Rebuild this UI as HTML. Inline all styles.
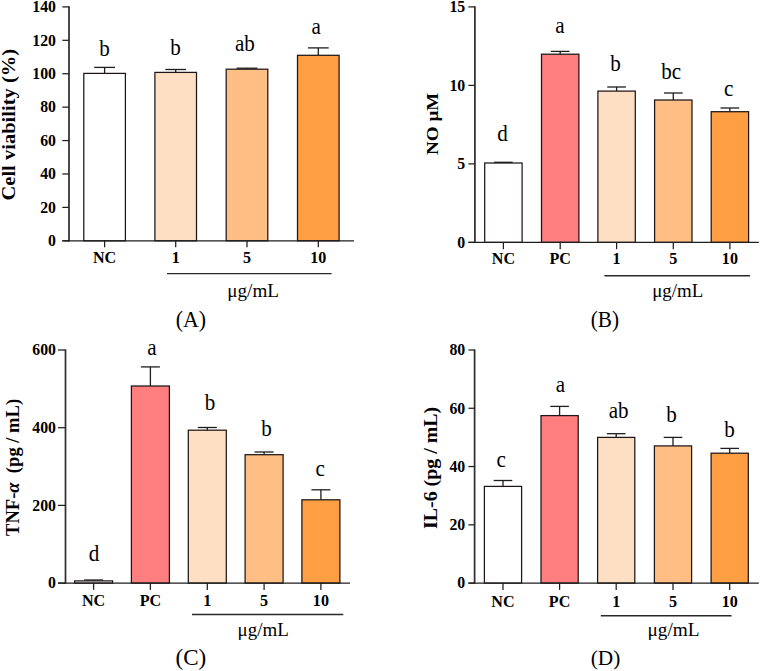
<!DOCTYPE html>
<html><head><meta charset="utf-8"><style>
html,body{margin:0;padding:0;background:#fff;}
body{width:760px;height:671px;overflow:hidden;}
svg{display:block;font-family:"Liberation Serif", serif;}
</style></head><body>
<svg width="760" height="671" viewBox="0 0 760 671">
<rect width="760" height="671" fill="#fff"/>
<line x1="104.60" y1="67.40" x2="104.60" y2="73.40" stroke="#1e1e1e" stroke-width="1.3"/>
<line x1="94.20" y1="67.40" x2="115.00" y2="67.40" stroke="#1e1e1e" stroke-width="1.3"/>
<rect x="83.80" y="73.40" width="41.60" height="167.40" fill="#ffffff" stroke="#1e1616" stroke-width="1.25"/>
<line x1="104.60" y1="240.80" x2="104.60" y2="247.30" stroke="#1e1e1e" stroke-width="1.25"/>
<line x1="175.70" y1="69.50" x2="175.70" y2="72.40" stroke="#1e1e1e" stroke-width="1.3"/>
<line x1="165.30" y1="69.50" x2="186.10" y2="69.50" stroke="#1e1e1e" stroke-width="1.3"/>
<rect x="154.90" y="72.40" width="41.60" height="168.40" fill="#fde0c4" stroke="#1e1616" stroke-width="1.25"/>
<line x1="175.70" y1="240.80" x2="175.70" y2="247.30" stroke="#1e1e1e" stroke-width="1.25"/>
<line x1="247.00" y1="68.20" x2="247.00" y2="69.20" stroke="#1e1e1e" stroke-width="1.3"/>
<line x1="236.60" y1="68.20" x2="257.40" y2="68.20" stroke="#1e1e1e" stroke-width="1.3"/>
<rect x="226.20" y="69.20" width="41.60" height="171.60" fill="#ffbf84" stroke="#1e1616" stroke-width="1.25"/>
<line x1="247.00" y1="240.80" x2="247.00" y2="247.30" stroke="#1e1e1e" stroke-width="1.25"/>
<line x1="318.30" y1="47.90" x2="318.30" y2="55.30" stroke="#1e1e1e" stroke-width="1.3"/>
<line x1="307.90" y1="47.90" x2="328.70" y2="47.90" stroke="#1e1e1e" stroke-width="1.3"/>
<rect x="297.50" y="55.30" width="41.60" height="185.50" fill="#ff9e42" stroke="#1e1616" stroke-width="1.25"/>
<line x1="318.30" y1="240.80" x2="318.30" y2="247.30" stroke="#1e1e1e" stroke-width="1.25"/>
<line x1="69.00" y1="6.30" x2="69.00" y2="241.40" stroke="#303030" stroke-width="1.75"/>
<line x1="62.30" y1="240.80" x2="69.00" y2="240.80" stroke="#1e1e1e" stroke-width="1.25"/>
<line x1="62.30" y1="207.39" x2="69.00" y2="207.39" stroke="#1e1e1e" stroke-width="1.25"/>
<line x1="62.30" y1="173.97" x2="69.00" y2="173.97" stroke="#1e1e1e" stroke-width="1.25"/>
<line x1="62.30" y1="140.56" x2="69.00" y2="140.56" stroke="#1e1e1e" stroke-width="1.25"/>
<line x1="62.30" y1="107.14" x2="69.00" y2="107.14" stroke="#1e1e1e" stroke-width="1.25"/>
<line x1="62.30" y1="73.73" x2="69.00" y2="73.73" stroke="#1e1e1e" stroke-width="1.25"/>
<line x1="62.30" y1="40.31" x2="69.00" y2="40.31" stroke="#1e1e1e" stroke-width="1.25"/>
<line x1="62.30" y1="6.90" x2="69.00" y2="6.90" stroke="#1e1e1e" stroke-width="1.25"/>
<line x1="62.30" y1="240.80" x2="354.00" y2="240.80" stroke="#1e1e1e" stroke-width="1.35"/>
<text transform="translate(48.09 246.14) scale(0.970 1)" font-size="16.30" font-weight="bold" fill="#000">0</text>
<text transform="translate(40.19 212.72) scale(0.970 1)" font-size="16.30" font-weight="bold" fill="#000">20</text>
<text transform="translate(40.19 179.31) scale(0.970 1)" font-size="16.30" font-weight="bold" fill="#000">40</text>
<text transform="translate(40.19 145.90) scale(0.970 1)" font-size="16.30" font-weight="bold" fill="#000">60</text>
<text transform="translate(40.19 112.48) scale(0.970 1)" font-size="16.30" font-weight="bold" fill="#000">80</text>
<text transform="translate(32.28 79.07) scale(0.970 1)" font-size="16.30" font-weight="bold" fill="#000">100</text>
<text transform="translate(32.28 45.65) scale(0.970 1)" font-size="16.30" font-weight="bold" fill="#000">120</text>
<text transform="translate(32.28 12.24) scale(0.970 1)" font-size="16.30" font-weight="bold" fill="#000">140</text>
<text transform="translate(92.96 262.60) scale(1.020 1)" font-size="15.80" font-weight="bold" fill="#000">NC</text>
<text transform="translate(171.67 262.60) scale(1.020 1)" font-size="15.80" font-weight="bold" fill="#000">1</text>
<text transform="translate(242.97 262.60) scale(1.020 1)" font-size="15.80" font-weight="bold" fill="#000">5</text>
<text transform="translate(310.24 262.60) scale(1.020 1)" font-size="15.80" font-weight="bold" fill="#000">10</text>
<text transform="translate(99.23 55.80) scale(0.950 1)" font-size="22.20" font-weight="normal" fill="#000">b</text>
<text transform="translate(170.23 54.80) scale(0.950 1)" font-size="22.20" font-weight="normal" fill="#000">b</text>
<text transform="translate(234.95 50.80) scale(0.950 1)" font-size="22.20" font-weight="normal" fill="#000">ab</text>
<text transform="translate(311.52 33.80) scale(0.950 1)" font-size="22.20" font-weight="normal" fill="#000">a</text>
<line x1="167.00" y1="273.60" x2="331.60" y2="273.60" stroke="#2a2a2a" stroke-width="1.4"/>
<text transform="translate(227.30 296.75) scale(0.973 1)" font-size="19.66" font-weight="normal" fill="#000">μg/mL</text>
<text transform="translate(175.70 326.63) scale(0.917 1)" font-size="23.81" font-weight="normal" fill="#000">(A)</text>
<text transform="translate(14.54 200.50) rotate(-90) scale(1.052 1)" font-size="19.51" font-weight="bold" fill="#000" style="white-space:pre">Cell viability (%)</text>
<line x1="503.40" y1="162.30" x2="503.40" y2="163.00" stroke="#1e1e1e" stroke-width="1.3"/>
<line x1="494.05" y1="162.30" x2="512.75" y2="162.30" stroke="#1e1e1e" stroke-width="1.3"/>
<rect x="484.70" y="163.00" width="37.40" height="79.40" fill="#ffffff" stroke="#1e1616" stroke-width="1.25"/>
<line x1="503.40" y1="242.40" x2="503.40" y2="249.20" stroke="#1e1e1e" stroke-width="1.25"/>
<line x1="560.20" y1="51.40" x2="560.20" y2="54.20" stroke="#1e1e1e" stroke-width="1.3"/>
<line x1="550.85" y1="51.40" x2="569.55" y2="51.40" stroke="#1e1e1e" stroke-width="1.3"/>
<rect x="541.50" y="54.20" width="37.40" height="188.20" fill="#ff7e7f" stroke="#1e1616" stroke-width="1.25"/>
<line x1="560.20" y1="242.40" x2="560.20" y2="249.20" stroke="#1e1e1e" stroke-width="1.25"/>
<line x1="616.60" y1="87.00" x2="616.60" y2="91.10" stroke="#1e1e1e" stroke-width="1.3"/>
<line x1="607.25" y1="87.00" x2="625.95" y2="87.00" stroke="#1e1e1e" stroke-width="1.3"/>
<rect x="597.90" y="91.10" width="37.40" height="151.30" fill="#fde0c4" stroke="#1e1616" stroke-width="1.25"/>
<line x1="616.60" y1="242.40" x2="616.60" y2="249.20" stroke="#1e1e1e" stroke-width="1.25"/>
<line x1="673.30" y1="93.00" x2="673.30" y2="100.00" stroke="#1e1e1e" stroke-width="1.3"/>
<line x1="663.95" y1="93.00" x2="682.65" y2="93.00" stroke="#1e1e1e" stroke-width="1.3"/>
<rect x="654.60" y="100.00" width="37.40" height="142.40" fill="#ffbf84" stroke="#1e1616" stroke-width="1.25"/>
<line x1="673.30" y1="242.40" x2="673.30" y2="249.20" stroke="#1e1e1e" stroke-width="1.25"/>
<line x1="729.90" y1="108.00" x2="729.90" y2="111.70" stroke="#1e1e1e" stroke-width="1.3"/>
<line x1="720.55" y1="108.00" x2="739.25" y2="108.00" stroke="#1e1e1e" stroke-width="1.3"/>
<rect x="711.20" y="111.70" width="37.40" height="130.70" fill="#ff9e42" stroke="#1e1616" stroke-width="1.25"/>
<line x1="729.90" y1="242.40" x2="729.90" y2="249.20" stroke="#1e1e1e" stroke-width="1.25"/>
<line x1="474.90" y1="6.30" x2="474.90" y2="243.00" stroke="#303030" stroke-width="1.75"/>
<line x1="468.40" y1="242.40" x2="474.90" y2="242.40" stroke="#1e1e1e" stroke-width="1.25"/>
<line x1="468.40" y1="163.90" x2="474.90" y2="163.90" stroke="#1e1e1e" stroke-width="1.25"/>
<line x1="468.40" y1="85.40" x2="474.90" y2="85.40" stroke="#1e1e1e" stroke-width="1.25"/>
<line x1="468.40" y1="6.90" x2="474.90" y2="6.90" stroke="#1e1e1e" stroke-width="1.25"/>
<line x1="468.40" y1="242.40" x2="758.80" y2="242.40" stroke="#1e1e1e" stroke-width="1.35"/>
<text transform="translate(457.29 247.74) scale(0.970 1)" font-size="16.30" font-weight="bold" fill="#000">0</text>
<text transform="translate(457.29 169.16) scale(0.970 1)" font-size="16.30" font-weight="bold" fill="#000">5</text>
<text transform="translate(449.39 90.74) scale(0.970 1)" font-size="16.30" font-weight="bold" fill="#000">10</text>
<text transform="translate(449.39 12.20) scale(0.970 1)" font-size="16.30" font-weight="bold" fill="#000">15</text>
<text transform="translate(491.76 264.20) scale(1.020 1)" font-size="15.80" font-weight="bold" fill="#000">NC</text>
<text transform="translate(549.46 264.20) scale(1.020 1)" font-size="15.80" font-weight="bold" fill="#000">PC</text>
<text transform="translate(612.57 264.20) scale(1.020 1)" font-size="15.80" font-weight="bold" fill="#000">1</text>
<text transform="translate(669.27 264.20) scale(1.020 1)" font-size="15.80" font-weight="bold" fill="#000">5</text>
<text transform="translate(721.84 264.20) scale(1.020 1)" font-size="15.80" font-weight="bold" fill="#000">10</text>
<text transform="translate(497.33 141.30) scale(0.950 1)" font-size="22.20" font-weight="normal" fill="#000">d</text>
<text transform="translate(555.32 32.60) scale(0.950 1)" font-size="22.20" font-weight="normal" fill="#000">a</text>
<text transform="translate(610.13 71.30) scale(0.950 1)" font-size="22.20" font-weight="normal" fill="#000">b</text>
<text transform="translate(661.25 79.40) scale(0.950 1)" font-size="22.20" font-weight="normal" fill="#000">bc</text>
<text transform="translate(724.02 96.00) scale(0.950 1)" font-size="22.20" font-weight="normal" fill="#000">c</text>
<line x1="604.40" y1="275.80" x2="750.00" y2="275.80" stroke="#2a2a2a" stroke-width="1.4"/>
<text transform="translate(652.20 297.30) scale(0.971 1)" font-size="19.43" font-weight="normal" fill="#000">μg/mL</text>
<text transform="translate(590.70 326.76) scale(0.953 1)" font-size="22.27" font-weight="normal" fill="#000">(B)</text>
<text transform="translate(437.58 155.00) rotate(-90) scale(1.093 1)" font-size="17.49" font-weight="bold" fill="#000" style="white-space:pre">NO μM</text>
<line x1="93.60" y1="580.00" x2="93.60" y2="580.90" stroke="#1e1e1e" stroke-width="1.3"/>
<line x1="84.10" y1="580.00" x2="103.10" y2="580.00" stroke="#1e1e1e" stroke-width="1.3"/>
<rect x="74.60" y="580.90" width="38.00" height="2.20" fill="#ffffff" stroke="#1e1616" stroke-width="1.25"/>
<line x1="93.60" y1="583.10" x2="93.60" y2="589.90" stroke="#1e1e1e" stroke-width="1.25"/>
<line x1="150.40" y1="366.90" x2="150.40" y2="386.00" stroke="#1e1e1e" stroke-width="1.3"/>
<line x1="140.90" y1="366.90" x2="159.90" y2="366.90" stroke="#1e1e1e" stroke-width="1.3"/>
<rect x="131.40" y="386.00" width="38.00" height="197.10" fill="#ff7e7f" stroke="#1e1616" stroke-width="1.25"/>
<line x1="150.40" y1="583.10" x2="150.40" y2="589.90" stroke="#1e1e1e" stroke-width="1.25"/>
<line x1="207.30" y1="427.50" x2="207.30" y2="430.20" stroke="#1e1e1e" stroke-width="1.3"/>
<line x1="197.80" y1="427.50" x2="216.80" y2="427.50" stroke="#1e1e1e" stroke-width="1.3"/>
<rect x="188.30" y="430.20" width="38.00" height="152.90" fill="#fde0c4" stroke="#1e1616" stroke-width="1.25"/>
<line x1="207.30" y1="583.10" x2="207.30" y2="589.90" stroke="#1e1e1e" stroke-width="1.25"/>
<line x1="264.10" y1="452.00" x2="264.10" y2="454.70" stroke="#1e1e1e" stroke-width="1.3"/>
<line x1="254.60" y1="452.00" x2="273.60" y2="452.00" stroke="#1e1e1e" stroke-width="1.3"/>
<rect x="245.10" y="454.70" width="38.00" height="128.40" fill="#ffbf84" stroke="#1e1616" stroke-width="1.25"/>
<line x1="264.10" y1="583.10" x2="264.10" y2="589.90" stroke="#1e1e1e" stroke-width="1.25"/>
<line x1="320.90" y1="489.80" x2="320.90" y2="499.80" stroke="#1e1e1e" stroke-width="1.3"/>
<line x1="311.40" y1="489.80" x2="330.40" y2="489.80" stroke="#1e1e1e" stroke-width="1.3"/>
<rect x="301.90" y="499.80" width="38.00" height="83.30" fill="#ff9e42" stroke="#1e1616" stroke-width="1.25"/>
<line x1="320.90" y1="583.10" x2="320.90" y2="589.90" stroke="#1e1e1e" stroke-width="1.25"/>
<line x1="65.50" y1="349.40" x2="65.50" y2="583.70" stroke="#303030" stroke-width="1.75"/>
<line x1="58.00" y1="583.10" x2="65.50" y2="583.10" stroke="#1e1e1e" stroke-width="1.25"/>
<line x1="58.00" y1="505.40" x2="65.50" y2="505.40" stroke="#1e1e1e" stroke-width="1.25"/>
<line x1="58.00" y1="427.70" x2="65.50" y2="427.70" stroke="#1e1e1e" stroke-width="1.25"/>
<line x1="58.00" y1="350.00" x2="65.50" y2="350.00" stroke="#1e1e1e" stroke-width="1.25"/>
<line x1="58.00" y1="583.10" x2="350.00" y2="583.10" stroke="#1e1e1e" stroke-width="1.35"/>
<text transform="translate(48.09 588.44) scale(0.970 1)" font-size="16.30" font-weight="bold" fill="#000">0</text>
<text transform="translate(32.28 510.74) scale(0.970 1)" font-size="16.30" font-weight="bold" fill="#000">200</text>
<text transform="translate(32.28 433.04) scale(0.970 1)" font-size="16.30" font-weight="bold" fill="#000">400</text>
<text transform="translate(32.28 355.34) scale(0.970 1)" font-size="16.30" font-weight="bold" fill="#000">600</text>
<text transform="translate(81.96 606.20) scale(1.020 1)" font-size="15.80" font-weight="bold" fill="#000">NC</text>
<text transform="translate(139.66 606.20) scale(1.020 1)" font-size="15.80" font-weight="bold" fill="#000">PC</text>
<text transform="translate(203.27 606.20) scale(1.020 1)" font-size="15.80" font-weight="bold" fill="#000">1</text>
<text transform="translate(260.07 606.20) scale(1.020 1)" font-size="15.80" font-weight="bold" fill="#000">5</text>
<text transform="translate(312.84 606.20) scale(1.020 1)" font-size="15.80" font-weight="bold" fill="#000">10</text>
<text transform="translate(88.73 561.00) scale(0.950 1)" font-size="22.20" font-weight="normal" fill="#000">d</text>
<text transform="translate(147.32 354.80) scale(0.950 1)" font-size="22.20" font-weight="normal" fill="#000">a</text>
<text transform="translate(204.73 410.00) scale(0.950 1)" font-size="22.20" font-weight="normal" fill="#000">b</text>
<text transform="translate(261.23 436.30) scale(0.950 1)" font-size="22.20" font-weight="normal" fill="#000">b</text>
<text transform="translate(315.52 475.80) scale(0.950 1)" font-size="22.20" font-weight="normal" fill="#000">c</text>
<line x1="192.00" y1="614.50" x2="343.30" y2="614.50" stroke="#2a2a2a" stroke-width="1.4"/>
<text transform="translate(237.50 636.30) scale(0.976 1)" font-size="19.43" font-weight="normal" fill="#000">μg/mL</text>
<text transform="translate(175.50 665.30) scale(1.046 1)" font-size="22.05" font-weight="normal" fill="#000">(C)</text>
<text transform="translate(18.51 536.00) rotate(-90) scale(1.030 1)" font-size="18.03" font-weight="bold" fill="#000" style="white-space:pre">TNF-<tspan font-style="italic">α</tspan>  (pg / mL)</text>
<line x1="503.00" y1="480.50" x2="503.00" y2="486.40" stroke="#1e1e1e" stroke-width="1.3"/>
<line x1="493.70" y1="480.50" x2="512.30" y2="480.50" stroke="#1e1e1e" stroke-width="1.3"/>
<rect x="484.40" y="486.40" width="37.20" height="96.70" fill="#ffffff" stroke="#1e1616" stroke-width="1.25"/>
<line x1="503.00" y1="583.10" x2="503.00" y2="589.90" stroke="#1e1e1e" stroke-width="1.25"/>
<line x1="559.60" y1="406.40" x2="559.60" y2="415.60" stroke="#1e1e1e" stroke-width="1.3"/>
<line x1="550.30" y1="406.40" x2="568.90" y2="406.40" stroke="#1e1e1e" stroke-width="1.3"/>
<rect x="541.00" y="415.60" width="37.20" height="167.50" fill="#ff7e7f" stroke="#1e1616" stroke-width="1.25"/>
<line x1="559.60" y1="583.10" x2="559.60" y2="589.90" stroke="#1e1e1e" stroke-width="1.25"/>
<line x1="616.20" y1="433.70" x2="616.20" y2="437.40" stroke="#1e1e1e" stroke-width="1.3"/>
<line x1="606.90" y1="433.70" x2="625.50" y2="433.70" stroke="#1e1e1e" stroke-width="1.3"/>
<rect x="597.60" y="437.40" width="37.20" height="145.70" fill="#fde0c4" stroke="#1e1616" stroke-width="1.25"/>
<line x1="616.20" y1="583.10" x2="616.20" y2="589.90" stroke="#1e1e1e" stroke-width="1.25"/>
<line x1="673.00" y1="437.40" x2="673.00" y2="445.90" stroke="#1e1e1e" stroke-width="1.3"/>
<line x1="663.70" y1="437.40" x2="682.30" y2="437.40" stroke="#1e1e1e" stroke-width="1.3"/>
<rect x="654.40" y="445.90" width="37.20" height="137.20" fill="#ffbf84" stroke="#1e1616" stroke-width="1.25"/>
<line x1="673.00" y1="583.10" x2="673.00" y2="589.90" stroke="#1e1e1e" stroke-width="1.25"/>
<line x1="729.70" y1="448.40" x2="729.70" y2="453.20" stroke="#1e1e1e" stroke-width="1.3"/>
<line x1="720.40" y1="448.40" x2="739.00" y2="448.40" stroke="#1e1e1e" stroke-width="1.3"/>
<rect x="711.10" y="453.20" width="37.20" height="129.90" fill="#ff9e42" stroke="#1e1616" stroke-width="1.25"/>
<line x1="729.70" y1="583.10" x2="729.70" y2="589.90" stroke="#1e1e1e" stroke-width="1.25"/>
<line x1="474.60" y1="349.40" x2="474.60" y2="583.70" stroke="#303030" stroke-width="1.75"/>
<line x1="468.40" y1="583.10" x2="474.60" y2="583.10" stroke="#1e1e1e" stroke-width="1.25"/>
<line x1="468.40" y1="524.83" x2="474.60" y2="524.83" stroke="#1e1e1e" stroke-width="1.25"/>
<line x1="468.40" y1="466.55" x2="474.60" y2="466.55" stroke="#1e1e1e" stroke-width="1.25"/>
<line x1="468.40" y1="408.27" x2="474.60" y2="408.27" stroke="#1e1e1e" stroke-width="1.25"/>
<line x1="468.40" y1="350.00" x2="474.60" y2="350.00" stroke="#1e1e1e" stroke-width="1.25"/>
<line x1="468.40" y1="583.10" x2="758.80" y2="583.10" stroke="#1e1e1e" stroke-width="1.35"/>
<text transform="translate(457.29 588.44) scale(0.970 1)" font-size="16.30" font-weight="bold" fill="#000">0</text>
<text transform="translate(449.39 530.16) scale(0.970 1)" font-size="16.30" font-weight="bold" fill="#000">20</text>
<text transform="translate(449.39 471.89) scale(0.970 1)" font-size="16.30" font-weight="bold" fill="#000">40</text>
<text transform="translate(449.39 413.61) scale(0.970 1)" font-size="16.30" font-weight="bold" fill="#000">60</text>
<text transform="translate(449.39 355.34) scale(0.970 1)" font-size="16.30" font-weight="bold" fill="#000">80</text>
<text transform="translate(491.36 606.60) scale(1.020 1)" font-size="15.80" font-weight="bold" fill="#000">NC</text>
<text transform="translate(548.86 606.60) scale(1.020 1)" font-size="15.80" font-weight="bold" fill="#000">PC</text>
<text transform="translate(612.17 606.60) scale(1.020 1)" font-size="15.80" font-weight="bold" fill="#000">1</text>
<text transform="translate(668.97 606.60) scale(1.020 1)" font-size="15.80" font-weight="bold" fill="#000">5</text>
<text transform="translate(721.64 606.60) scale(1.020 1)" font-size="15.80" font-weight="bold" fill="#000">10</text>
<text transform="translate(496.52 467.30) scale(0.950 1)" font-size="22.20" font-weight="normal" fill="#000">c</text>
<text transform="translate(555.82 391.50) scale(0.950 1)" font-size="22.20" font-weight="normal" fill="#000">a</text>
<text transform="translate(608.65 418.00) scale(0.950 1)" font-size="22.20" font-weight="normal" fill="#000">ab</text>
<text transform="translate(666.13 422.30) scale(0.950 1)" font-size="22.20" font-weight="normal" fill="#000">b</text>
<text transform="translate(724.33 437.00) scale(0.950 1)" font-size="22.20" font-weight="normal" fill="#000">b</text>
<line x1="600.80" y1="615.70" x2="731.60" y2="615.70" stroke="#2a2a2a" stroke-width="1.4"/>
<text transform="translate(647.50 636.30) scale(0.992 1)" font-size="19.43" font-weight="normal" fill="#000">μg/mL</text>
<text transform="translate(590.70 665.04) scale(1.018 1)" font-size="20.95" font-weight="normal" fill="#000">(D)</text>
<text transform="translate(436.77 529.00) rotate(-90) scale(1.042 1)" font-size="19.13" font-weight="bold" fill="#000" style="white-space:pre">IL-6 (pg / mL)</text>
</svg>
</body></html>
